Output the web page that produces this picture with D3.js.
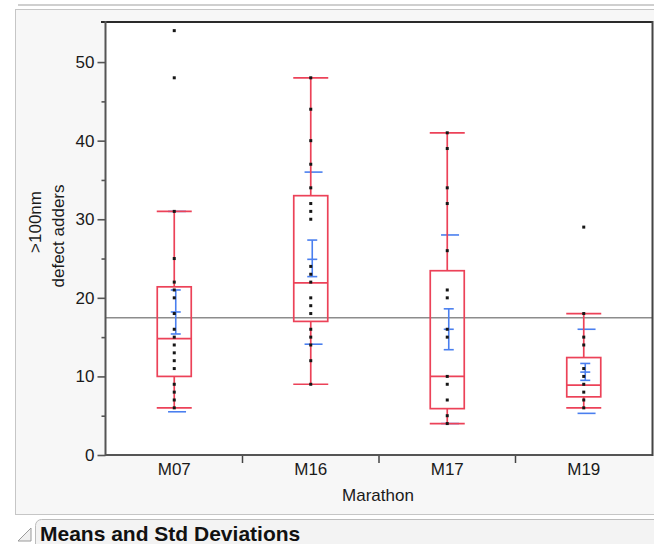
<!DOCTYPE html>
<html>
<head>
<meta charset="utf-8">
<script src="https://cdn.jsdelivr.net/npm/d3@7"></script>
<style>
  html, body { margin: 0; padding: 0; background: #ffffff; }
  svg { display: block; font-family: "Liberation Sans", Arial, sans-serif; }
</style>
</head>
<body>
<svg id="chart" width="654" height="544"></svg>
<script>
// ---------------- data ----------------
const categories = ["M07", "M16", "M17", "M19"];

const pointsM07 = [54, 48, 31, 25, 22, 21, 20, 18, 16, 15, 14, 13, 12, 11, 9, 8, 7, 6];
const pointsM16 = [48, 44, 40, 37, 34, 32, 31, 30, 24, 23, 22, 20, 19, 18, 16, 15, 14, 12, 9];
const pointsM17 = [41, 39, 34, 32, 26, 21, 20, 16, 15, 10, 9, 7, 5, 4];
const pointsM19 = [29, 18, 15, 14, 11, 10, 9, 8, 7, 6];

const q1Values     = [10.0, 17.0, 5.9, 7.4];
const medianValues = [14.8, 21.9, 10.0, 8.9];
const q3Values     = [21.4, 33.0, 23.45, 12.4];
const whiskerLow   = [6, 9, 4, 6];
const whiskerHigh  = [31, 48, 41, 18];

const meanValues = [18.2, 24.9, 16.0, 10.55];
const ciLow      = [15.4, 22.7, 13.4, 9.5];
const ciHigh     = [21.0, 27.35, 18.6, 11.65];
const sdLow      = [5.5, 14.1, 4.0, 5.3];
const sdHigh     = [31.0, 36.0, 28.0, 16.0];

const grandMean = 17.47;
const yMajorTicks = [0, 10, 20, 30, 40, 50];
const yMinorTicks = [5, 15, 25, 35, 45];

const yTitleLines = [">100nm", "defect adders"];
const xTitle = "Marathon";
const sectionTitle = "Means and Std Deviations";

// ---------------- build ----------------
const pointSets = [pointsM07, pointsM16, pointsM17, pointsM19];
const groups = categories.map((c, i) => ({
  cat: c, pts: pointSets[i],
  q1: q1Values[i], med: medianValues[i], q3: q3Values[i],
  wlo: whiskerLow[i], whi: whiskerHigh[i],
  mean: meanValues[i], cilo: ciLow[i], cihi: ciHigh[i],
  sdlo: sdLow[i], sdhi: sdHigh[i]
}));

const svg = d3.select("#chart");
const RED = "#ec4258";
const BLUE = "#4a7fef";
const TXT = "#1a1a1a";

const plot = { left: 106, right: 652, top: 22, bottom: 455 };

const x = d3.scaleBand().domain(categories).range([plot.left, plot.right]).padding(0);
const y = d3.scaleLinear().domain([0, 55.1]).range([plot.bottom, plot.top]);
const cx = c => x(c) + x.bandwidth() / 2;

// top decoration line
svg.append("line").attr("x1", 18).attr("x2", 654).attr("y1", 5).attr("y2", 5)
  .attr("stroke", "#cfcfcf").attr("stroke-width", 2);

// panel
svg.append("rect").attr("x", 15.5).attr("y", 9.5).attr("width", 660).attr("height", 505)
  .attr("fill", "#f7f7f7").attr("stroke", "#c6c6c6").attr("stroke-width", 1);

// plot background
svg.append("rect").attr("x", plot.left).attr("y", plot.top)
  .attr("width", plot.right - plot.left).attr("height", plot.bottom - plot.top)
  .attr("fill", "#ffffff");

// reference line (grand mean)
svg.append("line")
  .attr("x1", plot.left).attr("x2", plot.right)
  .attr("y1", y(grandMean)).attr("y2", y(grandMean))
  .attr("stroke", "#8c8c8c").attr("stroke-width", 1.5);

// y axis (major + minor)
const yAxisMajor = d3.axisLeft(y).tickValues(yMajorTicks).tickSize(8).tickPadding(3);
const yAxisMinor = d3.axisLeft(y).tickValues(yMinorTicks).tickSize(4).tickFormat("");
const gy = svg.append("g").attr("transform", `translate(${plot.left - 0.5},0)`).call(yAxisMajor);
const gy2 = svg.append("g").attr("transform", `translate(${plot.left - 0.5},0)`).call(yAxisMinor);
[gy, gy2].forEach(g => {
  g.select(".domain").remove();
  g.selectAll(".tick line").attr("stroke", "#555").attr("stroke-width", 1.6);
});
gy.selectAll(".tick text").attr("font-size", 17).attr("fill", TXT)
  .attr("font-family", "Liberation Sans, Arial, sans-serif");

// x axis labels
const xAxis = d3.axisBottom(x).tickSize(0).tickPadding(0);
const gx = svg.append("g").attr("transform", `translate(0,${plot.bottom})`).call(xAxis);
gx.select(".domain").remove();
gx.selectAll(".tick text").attr("font-size", 17).attr("fill", TXT)
  .attr("dy", null).attr("y", 20)
  .attr("font-family", "Liberation Sans, Arial, sans-serif");

// separators between categories
svg.append("g").selectAll("line").data(categories.slice(1)).join("line")
  .attr("x1", d => x(d)).attr("x2", d => x(d))
  .attr("y1", plot.bottom).attr("y2", plot.bottom + 8)
  .attr("stroke", "#444").attr("stroke-width", 1.5);

// frame
svg.append("line").attr("x1", 101).attr("x2", plot.right).attr("y1", plot.top).attr("y2", plot.top)
  .attr("stroke", "#2a2a2a").attr("stroke-width", 2);
svg.append("line").attr("x1", plot.left - 0.5).attr("x2", plot.left - 0.5).attr("y1", plot.top - 1).attr("y2", plot.bottom + 1)
  .attr("stroke", "#555").attr("stroke-width", 2);
svg.append("line").attr("x1", plot.left - 1).attr("x2", plot.right + 1).attr("y1", plot.bottom).attr("y2", plot.bottom)
  .attr("stroke", "#555").attr("stroke-width", 2);
svg.append("line").attr("x1", plot.right + 0.5).attr("x2", plot.right + 0.5).attr("y1", plot.top - 1).attr("y2", plot.bottom + 1)
  .attr("stroke", "#444").attr("stroke-width", 2);

// blue means / std dev
const gBlue = svg.append("g").attr("stroke", BLUE).attr("stroke-width", 1.6).attr("fill", "none");
groups.forEach(g => {
  const c = cx(g.cat) + 1.5;
  const cs = cx(g.cat) + 2.8;
  gBlue.append("line").attr("x1", c).attr("x2", c).attr("y1", y(g.cihi)).attr("y2", y(g.cilo));
  [g.cihi, g.mean, g.cilo].forEach(v => {
    gBlue.append("line").attr("x1", c - 5).attr("x2", c + 5).attr("y1", y(v)).attr("y2", y(v));
  });
  [g.sdlo, g.sdhi].forEach(v => {
    gBlue.append("line").attr("x1", cs - 9).attr("x2", cs + 9).attr("y1", y(v)).attr("y2", y(v));
  });
});

// red box plots
const BW = 34;
const gRed = svg.append("g").attr("stroke", RED).attr("stroke-width", 1.7).attr("fill", "none");
groups.forEach(g => {
  const c = cx(g.cat);
  gRed.append("rect").attr("x", c - BW / 2).attr("y", y(g.q3))
    .attr("width", BW).attr("height", y(g.q1) - y(g.q3));
  gRed.append("line").attr("x1", c - BW / 2).attr("x2", c + BW / 2).attr("y1", y(g.med)).attr("y2", y(g.med));
  gRed.append("line").attr("x1", c).attr("x2", c).attr("y1", y(g.q3)).attr("y2", y(g.whi));
  gRed.append("line").attr("x1", c).attr("x2", c).attr("y1", y(g.q1)).attr("y2", y(g.wlo));
  [g.whi, g.wlo].forEach(v => {
    gRed.append("line").attr("x1", c - BW / 2 - 0.5).attr("x2", c + BW / 2 + 0.5).attr("y1", y(v)).attr("y2", y(v));
  });
});

// points
const gPts = svg.append("g").attr("fill", "#161616");
groups.forEach(g => {
  gPts.selectAll(null).data(g.pts).join("rect")
    .attr("x", cx(g.cat) - 1.5).attr("y", d => y(d) - 1.5)
    .attr("width", 3).attr("height", 3);
});

// axis titles
svg.append("text").attr("x", 378).attr("y", 501)
  .attr("text-anchor", "middle").attr("font-size", 17).attr("fill", TXT).text(xTitle);

svg.append("text").attr("transform", "translate(41,222) rotate(-90)")
  .attr("text-anchor", "middle").attr("font-size", 17).attr("fill", TXT).text(yTitleLines[0]);
svg.append("text").attr("transform", "translate(64,236) rotate(-90)")
  .attr("text-anchor", "middle").attr("font-size", 17).attr("fill", TXT).text(yTitleLines[1]);

// section header
svg.append("rect").attr("x", 35.5).attr("y", 519.5).attr("width", 640).attr("height", 40).attr("rx", 6)
  .attr("fill", "#f3f3f3").attr("stroke", "#bcbcbc");
svg.append("path").attr("d", "M31,528 L31,541 L18,541 Z")
  .attr("fill", "#f0f0f0").attr("stroke", "#9a9a9a").attr("stroke-width", 1);
svg.append("text").attr("x", 40).attr("y", 541).attr("font-size", 21).attr("font-weight", "bold")
  .attr("fill", "#111").text(sectionTitle);
</script>
</body>
</html>
